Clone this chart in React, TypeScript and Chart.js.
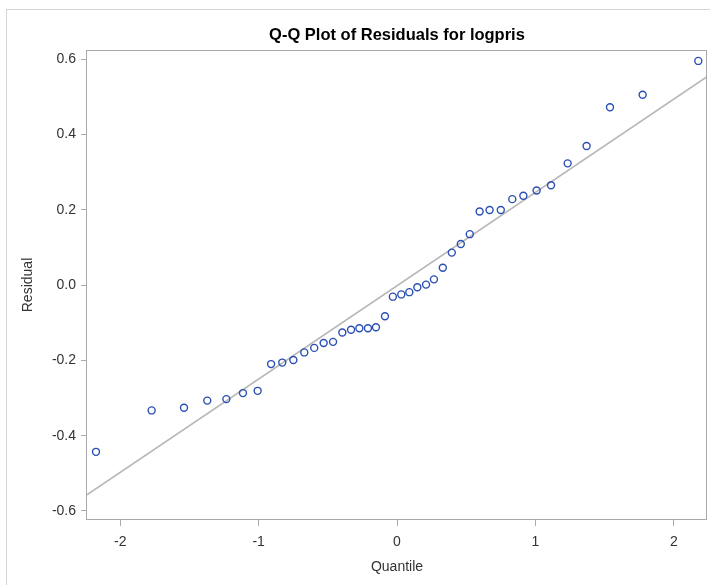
import React, { useEffect, useRef } from "react";
import { Chart, registerables } from "chart.js";

Chart.register(...registerables);

// Normal quantiles (x)
const quantiles = [
  -2.175, -1.773, -1.539, -1.371, -1.233, -1.113, -1.007, -0.91, -0.829, -0.749,
  -0.67, -0.598, -0.53, -0.462, -0.395, -0.332, -0.272, -0.21, -0.152, -0.087,
  -0.03, 0.031, 0.089, 0.147, 0.21, 0.267, 0.331, 0.396, 0.461, 0.526,
  0.597, 0.669, 0.75, 0.833, 0.913, 1.009, 1.113, 1.233, 1.37, 1.539,
  1.775, 2.177,
];
// Residuals (y)
const residuals = [
  -0.443, -0.333, -0.326, -0.307, -0.303, -0.287, -0.281, -0.21, -0.206, -0.199,
  -0.179, -0.167, -0.154, -0.151, -0.126, -0.119, -0.115, -0.115, -0.112, -0.083,
  -0.031, -0.025, -0.019, -0.006, 0.001, 0.015, 0.046, 0.086, 0.109, 0.135,
  0.195, 0.199, 0.199, 0.228, 0.237, 0.251, 0.265, 0.323, 0.369, 0.472,
  0.505, 0.595,
];
// Reference line end points
const refLineX = [-2.24, 2.24];
const refLineY = [-0.557, 0.553];

const xTicks = [-2, -1, 0, 1, 2];
const xTickLabels = ["-2", "-1", "0", "1", "2"];
const yTicks = [-0.6, -0.4, -0.2, 0, 0.2, 0.4, 0.6];
const yTickLabels = ["-0.6", "-0.4", "-0.2", "0.0", "0.2", "0.4", "0.6"];

const titleText = "Q-Q Plot of Residuals for logpris";
const xTitle = "Quantile";
const yTitle = "Residual";

const FONT = '"Liberation Sans", Arial, sans-serif';

export default function App() {
  const ref = useRef<HTMLCanvasElement | null>(null);

  useEffect(() => {
    if (!ref.current) return;
    const framePlugin = {
      id: "framePlugin",
      beforeDraw(chart: any) {
        const ctx = chart.ctx;
        ctx.save();
        ctx.fillStyle = "#ffffff";
        ctx.fillRect(0, 0, chart.width, chart.height);
        ctx.strokeStyle = "#d4d4d4";
        ctx.lineWidth = 1;
        ctx.strokeRect(6.5, 9.5, 1000, 1000);
        ctx.restore();
      },
      afterDraw(chart: any) {
        const ctx = chart.ctx;
        const a = chart.chartArea;
        ctx.save();
        ctx.strokeStyle = "#aaaaaa";
        ctx.lineWidth = 1;
        ctx.strokeRect(a.left - 0.5, a.top + 0.5, a.right - a.left, a.bottom - a.top - 1);
        ctx.fillStyle = "#000000";
        ctx.font = "bold 16.5px " + FONT;
        ctx.textAlign = "center";
        ctx.textBaseline = "middle";
        ctx.fillText(titleText, (a.left + a.right) / 2, 35);
        ctx.restore();
      },
    };

    const chart = new Chart(ref.current, {
      type: "scatter",
      data: {
        datasets: [
          {
            type: "scatter",
            data: quantiles.map((x, i) => ({ x, y: residuals[i] })),
            pointStyle: "circle",
            pointRadius: 3.5,
            pointBorderWidth: 1.4,
            borderColor: "#2a4fb4",
            backgroundColor: "rgba(0,0,0,0)",
            pointBackgroundColor: "rgba(0,0,0,0)",
            pointBorderColor: "#2a4fb4",
            order: 0,
          } as any,
          {
            type: "line",
            data: refLineX.map((x, i) => ({ x, y: refLineY[i] })),
            borderColor: "#b8b8b8",
            borderWidth: 1.5,
            pointRadius: 0,
            showLine: true,
            fill: false,
            order: 1,
          } as any,
        ],
      },
      options: {
        responsive: false,
        animation: false,
        devicePixelRatio: 1,
        layout: { autoPadding: false, padding: { left: 0, top: 50, right: 3, bottom: 0 } },
        plugins: {
          legend: { display: false },
          tooltip: { enabled: false },
          title: { display: false },
        },
        scales: {
          x: {
            type: "linear",
            position: "bottom",
            min: -2.24,
            max: 2.24,
            afterBuildTicks(scale: any) {
              scale.ticks = xTicks.map((v) => ({ value: v }));
            },
            afterFit(scale: any) {
              scale.height = 65;
              scale.paddingLeft = 0;
              scale.paddingRight = 0;
            },
            ticks: {
              padding: 8,
              color: "#333333",
              font: { family: FONT, size: 14 },
              callback: (v: any) => {
                const i = xTicks.indexOf(Number(v));
                return i >= 0 ? xTickLabels[i] : "";
              },
            },
            grid: { display: true, drawOnChartArea: false, drawTicks: true, tickLength: 6, tickColor: "#aaaaaa" },
            border: { display: false },
            title: { display: true, text: xTitle, color: "#333333", font: { family: FONT, size: 14 }, padding: { top: 0, bottom: 9 } },
          },
          y: {
            type: "linear",
            position: "left",
            min: -0.624,
            max: 0.624,
            afterBuildTicks(scale: any) {
              scale.ticks = yTicks.map((v) => ({ value: v }));
            },
            afterFit(scale: any) {
              scale.width = 87;
            },
            ticks: {
              padding: 5,
              color: "#333333",
              font: { family: FONT, size: 14 },
              callback: (v: any) => {
                const i = yTicks.findIndex((t) => Math.abs(t - Number(v)) < 1e-9);
                return i >= 0 ? yTickLabels[i] : "";
              },
            },
            grid: { display: true, drawOnChartArea: false, drawTicks: true, tickLength: 6, tickColor: "#aaaaaa" },
            border: { display: false },
            title: { display: true, text: yTitle, color: "#333333", font: { family: FONT, size: 14 }, padding: { top: 20, bottom: 0 } },
          },
        },
      },
      plugins: [framePlugin],
    } as any);

    return () => chart.destroy();
  }, []);

  return (
    <div style={{ position: "fixed", left: 0, top: 0, width: 710, height: 585, overflow: "hidden", background: "#fff" }}>
      <canvas ref={ref} width={710} height={585} style={{ display: "block", width: 710, height: 585 }} />
    </div>
  );
}
